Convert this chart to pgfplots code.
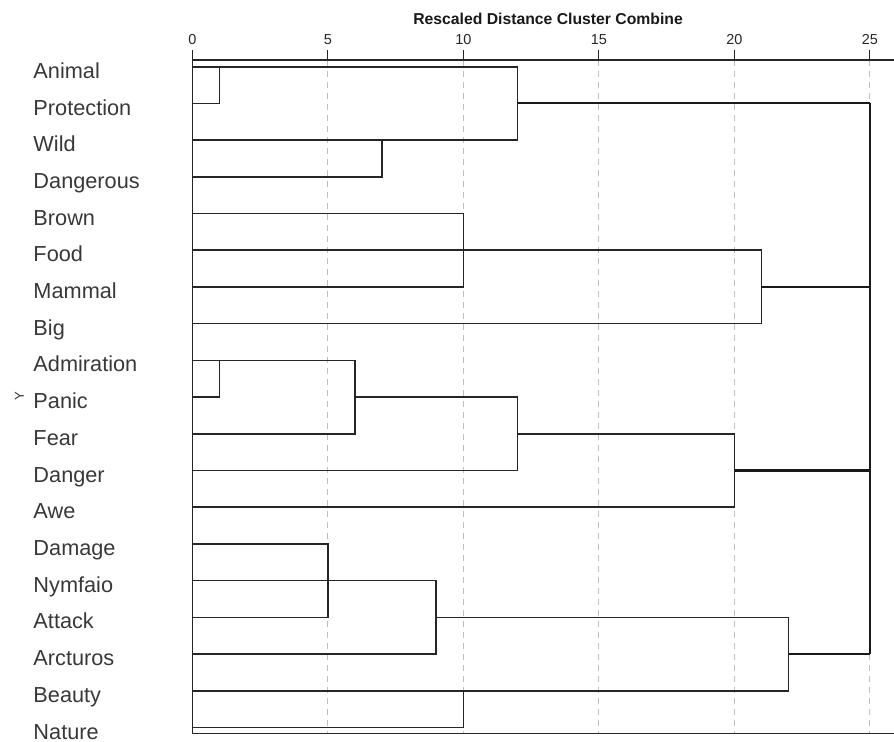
\documentclass[border=0pt]{standalone}
\usepackage{pgfplots}
\pgfplotsset{compat=1.18}
\usepackage{fontspec}
\setmainfont{Liberation Sans}
\begin{document}
\begin{tikzpicture}
\path[use as bounding box] (0,0) rectangle (894bp,742bp);
\begin{axis}[
  at={(192.3bp,8.7bp)}, anchor=south west,
  scale only axis, width=701.7bp, height=673.3bp,
  xmin=0, xmax=25.89, ymin=-0.183, ymax=18.16, y dir=reverse,
  axis x line=box, axis y line=left,
  axis line style={-, line width=1.2bp, black!85},
  clip=false,
  xtick={0,5,10,15,20,25}, xtick pos=upper, xticklabel pos=upper,
  tick align=outside, major tick length=10bp,
  xtick style={line width=1.2bp, black!85},
  xmajorgrids, grid style={gray!50, line width=0.9bp, dash pattern=on 6bp off 5bp},
  /pgf/number format/assume math mode=true,
  xticklabel style={font=\fontsize{14.5}{16}\selectfont, inner sep=0pt, anchor=base, yshift=5.7bp, text=black!85},
  ytick={0,...,18},
  yticklabels={Animal,Protection,Wild,Dangerous,Brown,Food,Mammal,Big,Admiration,Panic,Fear,Danger,Awe,Damage,Nymfaio,Attack,Arcturos,Beauty,Nature},
  ytick style={draw=none},
  yticklabel style={anchor=base west, inner sep=0pt, xshift=-149bp, yshift=-11.6bp, font=\fontsize{21.8}{24}\selectfont, text=black!78},
  tree/.style={line width=1.6bp, black!85, no markers},
  top/.style={line width=2.1bp, black!90, no markers},
]
% cluster 1
\addplot[tree] coordinates {(0,1) (1,1) (1,0)};
\addplot[tree] coordinates {(0,0) (12,0) (12,2) (0,2)};
\addplot[tree] coordinates {(0,3) (7,3) (7,2)};
\addplot[top] coordinates {(12,1) (25,1)};
% cluster 2
\addplot[tree] coordinates {(0,4) (10,4) (10,6) (0,6)};
\addplot[tree] coordinates {(0,5) (21,5) (21,7) (0,7)};
\addplot[top] coordinates {(21,6) (25,6)};
% cluster 3
\addplot[tree] coordinates {(0,9) (1,9) (1,8)};
\addplot[tree] coordinates {(0,8) (6,8) (6,10) (0,10)};
\addplot[tree] coordinates {(6,9) (12,9) (12,11) (0,11)};
\addplot[tree] coordinates {(12,10) (20,10) (20,12) (0,12)};
\addplot[top] coordinates {(20,11) (25,11)};
% cluster 4
\addplot[tree] coordinates {(0,13) (5,13) (5,15) (0,15)};
\addplot[tree] coordinates {(0,14) (9,14) (9,16) (0,16)};
\addplot[tree] coordinates {(9,15) (22,15) (22,17) (0,17)};
\addplot[tree] coordinates {(0,18) (10,18) (10,17)};
\addplot[top] coordinates {(22,16) (25,16)};
% root
\addplot[top] coordinates {(25,1) (25,16)};
\node[anchor=base, font=\bfseries\fontsize{15.8}{18}\selectfont, text=black!90] at (axis description cs:0.507,1) [yshift=36bp] {Rescaled Distance Cluster Combine};
\node[xshift=-173bp, yshift=1bp, rotate=90, font=\fontsize{13}{13}\selectfont, text=black!80, inner sep=0pt] at (axis cs:0,9) {Y};
\end{axis}
\end{tikzpicture}
\end{document}
